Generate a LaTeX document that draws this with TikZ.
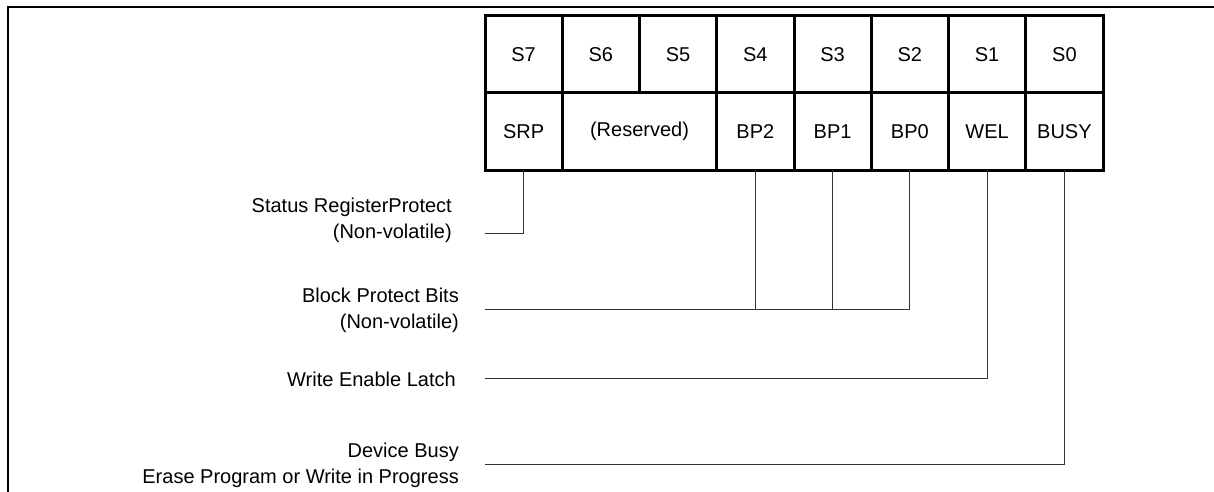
\documentclass[tikz,border=0pt]{standalone}
\usepackage{fontspec}
\setmainfont{Liberation Sans}
\usepackage{tikz}
\usetikzlibrary{positioning}
\usetikzlibrary{calc}
\definecolor{wirecolor}{HTML}{333333}

\tikzset{
  cell/.style={draw=black, line width=3pt, minimum width=77.25pt, minimum height=77pt,
    inner sep=0pt, outer sep=0pt, font=\fontsize{20}{24}\selectfont},
  wide cell/.style={cell, minimum width=154.5pt},
  lbl/.style={anchor=east, align=right, inner sep=0pt, font=\fontsize{20}{26}\selectfont},
  wire/.style={color=wirecolor, line width=1pt}
}

\begin{document}
\begin{tikzpicture}[x=1pt,y=-1pt]
\useasboundingbox (0,0) rectangle (1214,492);
%% page frame
\draw [black, line width=2.5pt] (8,492) -- (8,7) -- (1214,7);

%% status bits
\foreach \i [count=\c from 0] in {7,...,0}
    \node[cell] (s\i) at ({485+77.25*(\c+0.5)},54.5) {S\i};
\foreach \n/\t/\s in {srp/SRP/s7, bp2/BP2/s4, bp1/BP1/s3, bp0/BP0/s2, wel/WEL/s1, busy/BUSY/s0}
    \node[cell, below=0pt of \s] (\n) {\t};
\node[wide cell, anchor=north] (rsv) at ($(s6.south)!0.5!(s5.south)$) {(Reserved)};

%% descriptions
\node[lbl] (lsrp) at (452,220) {Status RegisterProtect\\(Non-volatile)};
\node[lbl] (lbp) at (459,310) {Block Protect Bits\\(Non-volatile)};
\node[lbl] (lwel) at (456,379) {Write Enable Latch};
\node[lbl] (lbusy) at (459,465) {Device Busy\\Erase Program or Write in Progress};

\coordinate (srpend) at (485,233);
\coordinate (bpend) at (485,309);
\coordinate (welend) at (485,378);
\coordinate (busyend) at (485,464);

\draw[wire] (srp.south) |- (srpend);
\draw[wire] (bp0.south) |- (bpend);
\foreach \n in {bp2,bp1}
    \draw[wire] (\n.south) -- (\n.south |- bpend);
\draw[wire] (wel.south) |- (welend);
\draw[wire] (busy.south) |- (busyend);
\end{tikzpicture}
\end{document}
